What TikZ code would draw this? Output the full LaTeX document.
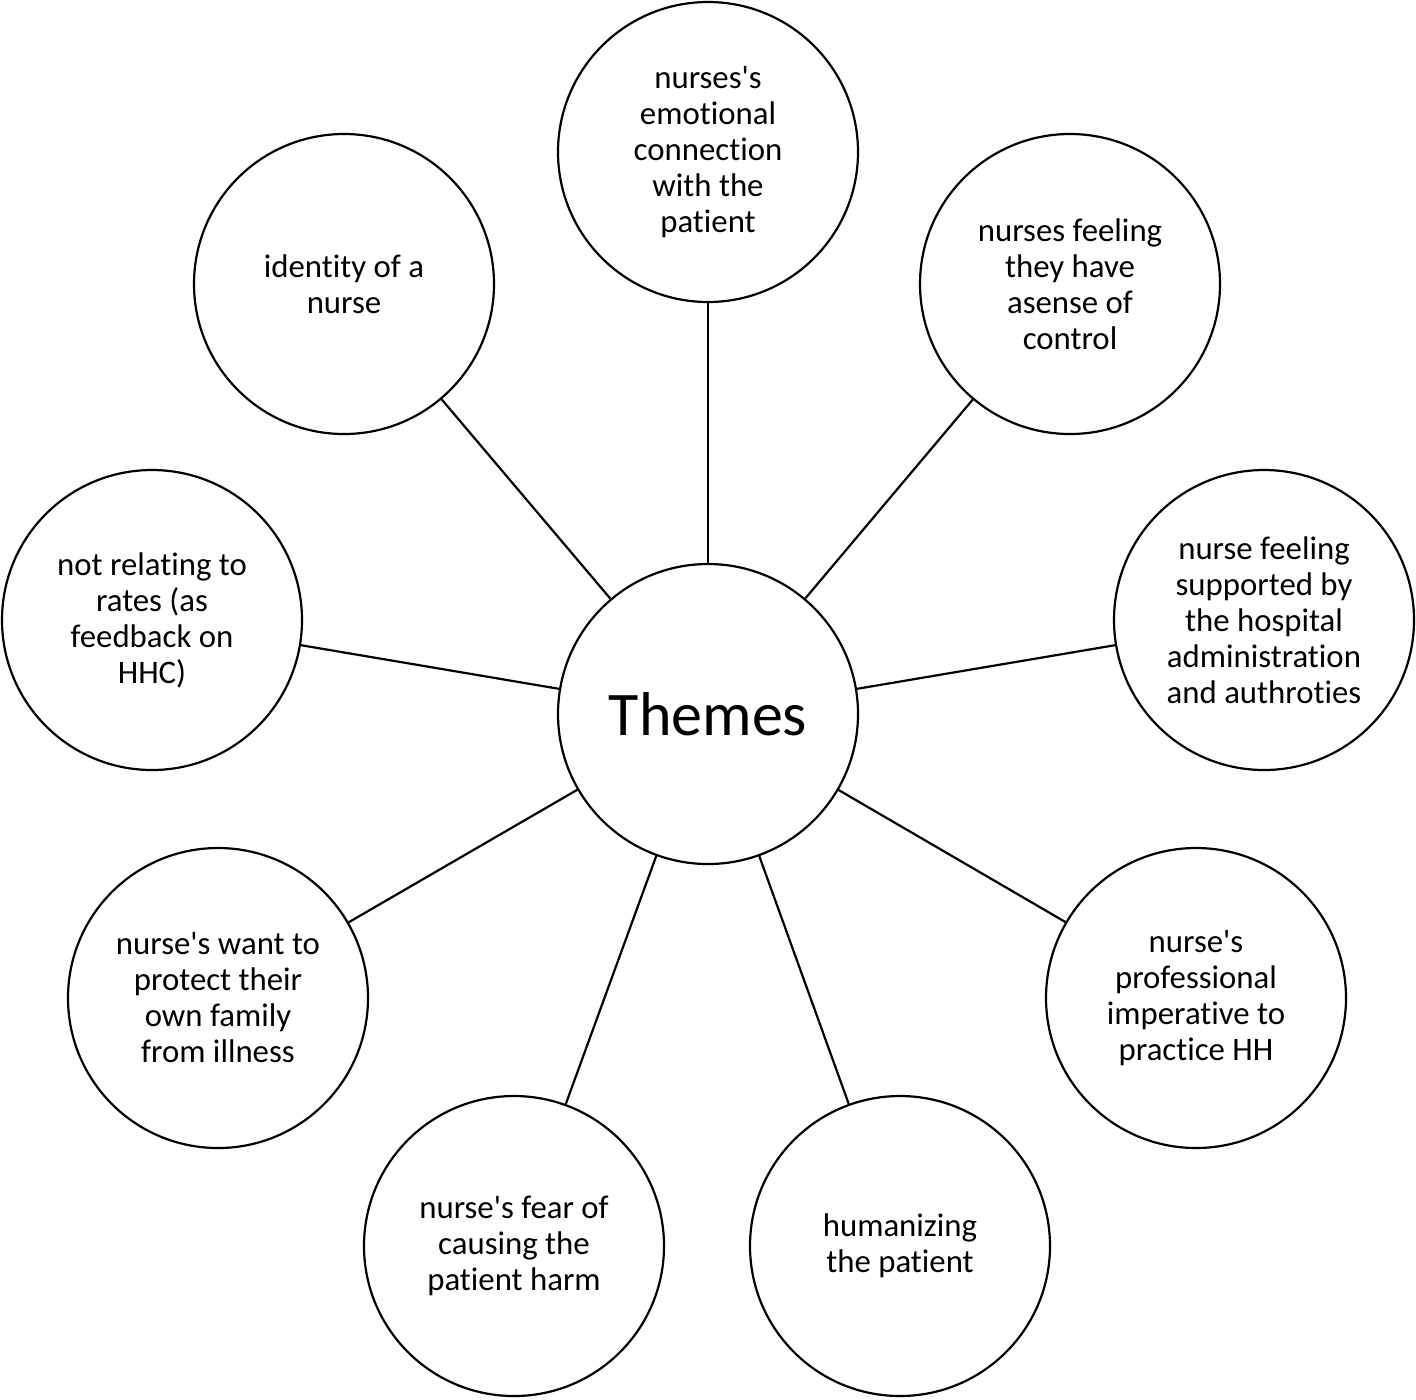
\documentclass[tikz,border=0pt]{standalone}
\usepackage{fontspec}
\setmainfont{Carlito}[Ligatures={NoCommon,TeXOff}]
\begin{document}
\begin{tikzpicture}[x=0.5pt,y=-0.5pt,
  theme/.style={draw=black,line width=1.1pt,circle,minimum size=150pt,inner sep=0pt,align=center,
    font=\fontsize{16.4pt}{18pt}\selectfont},
  hub/.style={theme,font=\fontsize{31pt}{36pt}\selectfont},
  link/.style={draw=black,line width=1.1pt}]
\useasboundingbox (0,0) rectangle (1416,1399);
\node[hub] (c) at (708,714) {Themes};
\node[theme] (t) at (708,152) {nurses's\\emotional\\connection\\with the\\patient};
\node[theme] (tl) at (344,284) {identity of a\\nurse};
\node[theme] (tr) at (1070,284) {nurses feeling\\they have\\asense of\\control};
\node[theme] (l) at (152,620) {not relating to\\rates (as\\feedback on\\HHC)};
\node[theme] (r) at (1264,620) {nurse feeling\\supported by\\the hospital\\administration\\and authroties};
\node[theme] (bl) at (218,998) {nurse's want to\\protect their\\own family\\from illness};
\node[theme] (br) at (1196,998) {nurse's\\professional\\imperative to\\practice HH};
\node[theme] (b1) at (514,1246) {nurse's fear of\\causing the\\patient harm};
\node[theme] (b2) at (900,1246) {humanizing\\the patient};
\foreach \n in {t,tl,tr,l,r,bl,br,b1,b2}
  \draw[link] (c) -- (\n);
\end{tikzpicture}
\end{document}
